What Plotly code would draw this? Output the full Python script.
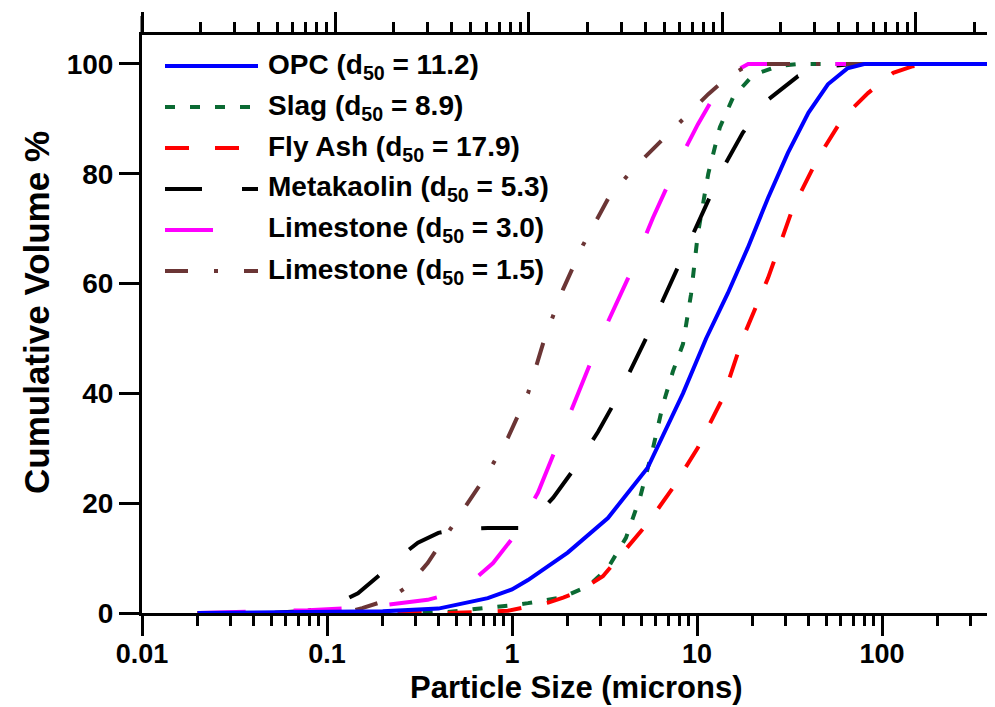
import plotly.graph_objects as go

# ---------------- data ----------------
opc_x = [0.02, 0.05, 0.1, 0.2, 0.4, 0.74, 1.0, 1.22, 2.0, 3.3, 5.4, 8.4, 11.2, 14.7, 18.8, 24.2, 31, 40, 51, 65, 80, 1000]
opc_y = [0, 0.05, 0.15, 0.3, 0.8, 2.7, 4.3, 6, 11, 17.3, 26.4, 40, 50, 58.3, 66.5, 75.6, 83.8, 91.1, 96.3, 99.2, 100, 100]

slag_x = [0.02, 0.3, 0.45, 0.74, 1.0, 1.22, 1.5, 1.89, 2.58, 3.3, 4.13, 4.92, 5.78, 6.55, 7.41, 8.4, 9.28, 10.1, 11.5, 13.3, 15.7, 20.1, 27.4, 35.2, 1000]
slag_y = [0, 0, 0.2, 0.9, 1.4, 1.8, 2.3, 2.9, 4.9, 8.2, 13.7, 21, 30, 38, 44, 49, 58, 69, 80, 88.5, 94, 98, 99.6, 100, 100]

flyash_x = [0.02, 0.45, 0.95, 1.57, 1.89, 2.27, 3.1, 3.98, 5.43, 7.41, 10.1, 13.8, 17.7, 24.2, 33, 45.1, 61.5, 84, 115, 147, 177, 1000]
flyash_y = [0, 0, 0.4, 1.9, 2.8, 3.8, 6.7, 10.9, 16.4, 22.8, 30.1, 39.2, 50.1, 61, 73.8, 82.9, 90.2, 94.7, 98.4, 99.6, 100, 100]

meta_x = [0.02, 0.048, 0.079, 0.115, 0.147, 0.189, 0.242, 0.31, 0.40, 0.51, 0.74, 1.08, 1.30, 1.67, 2.14, 2.92, 3.74, 5.3, 6.55, 8.4, 10.8, 13.8, 17.7, 24.2, 35.2, 48, 69.7, 1000]
meta_y = [0, 0, 0.4, 1.8, 3.6, 6.7, 10, 12.8, 14.6, 15.3, 15.5, 15.5, 17, 21, 26, 33, 39.5, 50, 57, 65, 73, 81, 87.5, 93.5, 97.8, 99.5, 100, 100]

lime30_x = [0.02, 0.042, 0.079, 0.13, 0.214, 0.35, 0.48, 0.62, 0.79, 1.01, 1.38, 2.01, 3.0, 4.24, 5.78, 7.89, 10.1, 13.0, 15.7, 18.9, 1000]
lime30_y = [0, 0.2, 0.5, 0.9, 1.5, 2.4, 3.6, 6, 9.1, 13.7, 21.9, 35.5, 50, 61, 72, 82, 89, 95.4, 98.5, 100, 100]

lime15_x = [0.02, 0.079, 0.13, 0.155, 0.214, 0.274, 0.35, 0.45, 0.58, 0.74, 0.95, 1.22, 1.5, 1.89, 2.42, 3.30, 4.51, 6.15, 8.4, 11.5, 14.7, 19.3, 1000]
lime15_y = [0, 0, 0.2, 0.9, 2.4, 4.9, 9.1, 14.6, 20, 25.5, 31.9, 40, 50, 59, 67, 75.4, 80.9, 85.4, 90, 94.5, 97.6, 100, 100]

series_names = ["OPC (d<sub>50</sub> = 11.2)", "Slag (d<sub>50</sub> = 8.9)", "Fly Ash (d<sub>50</sub> = 17.9)",
                "Metakaolin (d<sub>50</sub> = 5.3)", "Limestone (d<sub>50</sub> = 3.0)", "Limestone (d<sub>50</sub> = 1.5)"]

x_tickvals = [0.01, 0.1, 1, 10, 100]
x_ticktext = ["0.01", "0.1", "1", "10", "100"]
y_tickvals = [0, 20, 40, 60, 80, 100]
x_title = "Particle Size (microns)"
y_title = "Cumulative Volume %"

# ---------------- styling ----------------
FONT = "Liberation Sans, Arial, sans-serif"
colors = ["#0000ff", "#0b6a33", "#ff0000", "#000000", "#ff00ff", "#6b3535"]
dashes = ["solid", "10px,15px", "24px,26px", "37px,40px", "48px,48px", "23px,26px,4px,26px"]
LW = 4

xs = [opc_x, slag_x, flyash_x, meta_x, lime30_x, lime15_x]
ys = [opc_y, slag_y, flyash_y, meta_y, lime30_y, lime15_y]

fig = go.Figure()
# draw blue (OPC) last so it lies on top
for i in [1, 2, 3, 4, 5, 0]:
    fig.add_trace(go.Scatter(x=xs[i], y=ys[i], mode="lines", name=series_names[i],
                             line=dict(color=colors[i], width=LW, dash=dashes[i]),
                             showlegend=False))
# dummy trace for the mirrored (top/right) axes
fig.add_trace(go.Scatter(x=[None], y=[None], xaxis="x2", yaxis="y2", showlegend=False, hoverinfo="skip"))

minor_x = [k * 10.0 ** e for e in range(-2, 4) for k in range(2, 10)]

W, H = 995, 707
ML, MR, MT, MB = 134, 0, 27, 102
plot_h = H - MT - MB
plot_w = W - ML - MR

fig.update_layout(
    width=W, height=H,
    margin=dict(l=ML, r=MR, t=MT, b=MB),
    paper_bgcolor="white", plot_bgcolor="white",
    font=dict(family=FONT, color="black"),
    xaxis=dict(type="log", range=[-2, 2.654], showgrid=False, zeroline=False,
               showline=True, linecolor="black", linewidth=3,
               ticks="outside", ticklen=20, tickwidth=3, tickcolor="black",
               tickmode="array", tickvals=x_tickvals, ticktext=x_ticktext,
               ticklabelstandoff=-5,
               tickfont=dict(family=FONT, size=27, weight="bold"),
               minor=dict(tickmode="array", tickvals=minor_x, ticks="outside", ticklen=10,
                          tickwidth=3, tickcolor="black", showgrid=False)),
    xaxis2=dict(type="log", range=[-2, 2.45], overlaying="x", side="top", anchor="y",
                showgrid=False, zeroline=False, showline=True, linecolor="black", linewidth=3,
                ticks="outside", ticklen=20, tickwidth=3, tickcolor="black",
                tickmode="array", tickvals=x_tickvals, showticklabels=False,
                minor=dict(tickmode="array", tickvals=minor_x, ticks="outside", ticklen=10,
                           tickwidth=3, tickcolor="black", showgrid=False)),
    yaxis=dict(range=[0, 105.28], showgrid=False, zeroline=False,
               showline=True, linecolor="black", linewidth=3,
               ticks="outside", ticklen=20, tickwidth=3, tickcolor="black",
               tickmode="array", tickvals=y_tickvals,
               tickfont=dict(family=FONT, size=28, weight="bold")),
    yaxis2=dict(range=[0, 110.1], overlaying="y", side="right", anchor="x",
                showgrid=False, zeroline=False, showline=False,
                ticks="inside", ticklen=15, tickwidth=3, tickcolor="black",
                tickmode="array", tickvals=y_tickvals, showticklabels=False,
                minor=dict(tickmode="array", tickvals=[10, 30, 50, 70, 90], ticks="inside",
                           ticklen=7, tickwidth=3, tickcolor="black", showgrid=False)),
)

# axis titles as annotations for exact placement
fig.add_annotation(xref="paper", yref="paper", x=(568 - ML) / plot_w, y=(H - MB - 680) / plot_h,
                   xanchor="center", yanchor="middle", borderpad=0, showarrow=False,
                   text=x_title, font=dict(family=FONT, size=31, weight="bold", color="black"))
fig.add_annotation(xref="paper", yref="paper", x=(28 - ML) / plot_w, y=(H - MB - 305) / plot_h,
                   xanchor="center", yanchor="middle", textangle=-90, borderpad=0, showarrow=False,
                   text=y_title, font=dict(family=FONT, size=35, weight="bold", color="black"))

# left axis line extends above the top axis
fig.add_shape(type="line", xref="paper", yref="paper", x0=0, x1=0, y0=1, y1=1 + 19 / plot_h,
              line=dict(color="black", width=3))

# custom legend (long line samples as in the reference)
row_px = [58, 99, 140, 181, 222, 263]
x0p = (157 - ML) / plot_w
x1p = (250 - ML) / plot_w
xtp = (258 - ML) / plot_w
for i in range(6):
    yp = (H - MB - row_px[i]) / plot_h
    fig.add_shape(type="line", xref="paper", yref="paper", x0=x0p, x1=x1p, y0=yp, y1=yp,
                  line=dict(color=colors[i], width=LW, dash=dashes[i]))
    fig.add_annotation(xref="paper", yref="paper", x=xtp, y=yp, xanchor="left", yanchor="middle",
                       text=series_names[i], showarrow=False,
                       font=dict(family=FONT, size=28, weight="bold", color="black"))

fig.write_html("out.html")
